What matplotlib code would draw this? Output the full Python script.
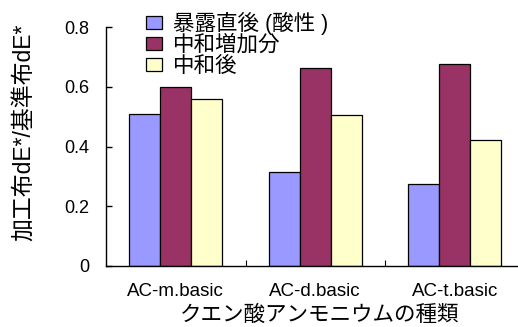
import numpy as np
import matplotlib
matplotlib.use('Agg')
import matplotlib.pyplot as plt
from matplotlib.ticker import FixedLocator

plt.rcParams['font.family'] = ['Liberation Sans', 'Noto Sans CJK JP']

categories = ['AC-m.basic', 'AC-d.basic', 'AC-t.basic']
series_names = ['暴露直後 (酸性 )', '中和増加分', '中和後']
exposed = [0.508, 0.314, 0.274]
neutral_gain = [0.598, 0.662, 0.675]
neutralized = [0.558, 0.505, 0.422]
colors = ['#9999FF', '#993366', '#FFFFCC']
yticks = [0, 0.2, 0.4, 0.6, 0.8]
ytick_labels = ['0', '0.2', '0.4', '0.6', '0.8']

W, H = 518, 327
fig = plt.figure(figsize=(W / 100, H / 100), dpi=100)
# 軸の領域（右端は図の外まで伸ばす）
ax = fig.add_axes([106 / W, 61 / H, (524.5 - 106) / W, (266 - 27) / H])

x = np.arange(len(categories))
width = 0.222
for i, (vals, name, c) in enumerate(zip([exposed, neutral_gain, neutralized], series_names, colors)):
    ax.bar(x + (i - 1) * width, vals, width, color=c, edgecolor='black',
           linewidth=0.9, label=name)

ax.set_xlim(-0.5, len(categories) - 0.5)
ax.set_ylim(0, 0.8)
ax.set_yticks(yticks)
ax.set_yticklabels(ytick_labels)
ax.set_xticks(x)
ax.set_xticklabels(categories)
ax.xaxis.set_minor_locator(FixedLocator(x[:-1] + 0.5))

for side in ['top', 'right']:
    ax.spines[side].set_visible(False)
for side in ['left', 'bottom']:
    ax.spines[side].set_linewidth(1.0)

ax.tick_params(axis='y', direction='in', length=4.5, width=1.0, pad=12, labelsize=13)
ax.tick_params(axis='x', which='major', length=0, pad=12, labelsize=13.5)
ax.tick_params(axis='x', which='minor', direction='in', length=4.5, width=0.8)

fig.text(24 / W, 1 - 132 / H, '加工布dE*/基準布dE*', rotation=90,
         ha='center', va='center', fontsize=16.5)
fig.text(320 / W, 1 - 315 / H, 'クエン酸アンモニウムの種類',
         ha='center', va='center', fontsize=15.5)

fig.legend(loc='upper left', bbox_to_anchor=(146 / W, 1 - 12 / H),
           frameon=False, borderpad=0, borderaxespad=0, fontsize=15.5,
           handlelength=0.75, handleheight=0.55, handletextpad=0.5,
           labelspacing=0.0)

fig.savefig('out.png', dpi=100)
